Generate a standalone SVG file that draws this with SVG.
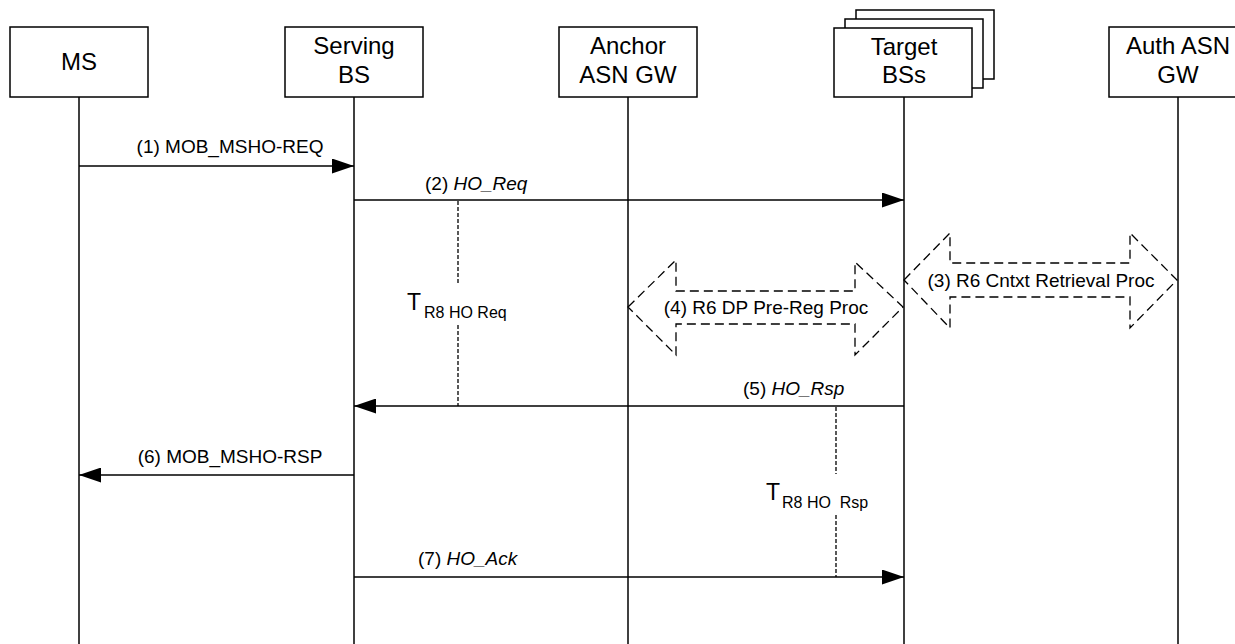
<svg xmlns="http://www.w3.org/2000/svg" width="1235" height="644" viewBox="0 0 1235 644">
<style>
.box{fill:#fff;stroke:#000;stroke-width:1.5}
.life{stroke:#000;stroke-width:1.5;fill:none}
.msg{stroke:#000;stroke-width:1.5;fill:none}
.tmr{stroke:#000;stroke-width:1.3;stroke-dasharray:4 2;fill:none}
.dbl{stroke:#000;stroke-width:1.3;stroke-dasharray:9 5;fill:none}
.bt{font-family:"Liberation Sans",Arial,sans-serif;font-size:24px;text-anchor:middle;fill:#000}
.lb{font-family:"Liberation Sans",Arial,sans-serif;font-size:19px;fill:#000}
.it{font-style:italic}
.tt{font-family:"Liberation Sans",Arial,sans-serif;font-size:23px;fill:#000}
.ts{font-family:"Liberation Sans",Arial,sans-serif;font-size:16px;fill:#000;white-space:pre}
</style>
<defs>
<marker id="ah" markerWidth="22" markerHeight="15" refX="22" refY="7.5" orient="auto" markerUnits="userSpaceOnUse">
<path d="M0,0 L22,7.5 L0,15 Z" fill="#000"/>
</marker>
</defs>

<g id="lifelines">
<line class="life" x1="79" y1="97" x2="79" y2="644"/>
<line class="life" x1="354" y1="97" x2="354" y2="644"/>
<line class="life" x1="628" y1="97" x2="628" y2="644"/>
<line class="life" x1="904" y1="97" x2="904" y2="644"/>
<line class="life" x1="1178" y1="97" x2="1178" y2="644"/>
</g>

<g id="node-ms">
<rect class="box" x="10" y="27" width="138" height="70"/>
<text class="bt" x="79" y="70">MS</text>
</g>
<g id="node-serving-bs">
<rect class="box" x="285" y="27" width="138" height="70"/>
<text class="bt" x="354" y="54">Serving</text>
<text class="bt" x="354" y="83">BS</text>
</g>
<g id="node-anchor-asn-gw">
<rect class="box" x="559" y="27" width="138" height="70"/>
<text class="bt" x="628" y="54">Anchor</text>
<text class="bt" x="628" y="83">ASN GW</text>
</g>
<g id="node-target-bss">
<rect class="box" x="856" y="10" width="138" height="69"/>
<rect class="box" x="845" y="19" width="138" height="69"/>
<rect class="box" x="834" y="28" width="138" height="69"/>
<text class="bt" x="904" y="55">Target</text>
<text class="bt" x="904" y="83">BSs</text>
</g>
<g id="node-auth-asn-gw">
<rect class="box" x="1109" y="27" width="138" height="70"/>
<text class="bt" x="1178" y="54">Auth ASN</text>
<text class="bt" x="1178" y="83">GW</text>
</g>

<g id="connectors">
<line class="msg" x1="79" y1="166" x2="354" y2="166" marker-end="url(#ah)"/>
<line class="msg" x1="354" y1="200" x2="904" y2="200" marker-end="url(#ah)"/>
<line class="msg" x1="904" y1="406" x2="354" y2="406" marker-end="url(#ah)"/>
<line class="msg" x1="354" y1="475" x2="79" y2="475" marker-end="url(#ah)"/>
<line class="msg" x1="354" y1="577" x2="904" y2="577" marker-end="url(#ah)"/>

<line class="tmr" x1="458" y1="201" x2="458" y2="285"/>
<line class="tmr" x1="458" y1="325" x2="458" y2="406"/>
<line class="tmr" x1="836" y1="407" x2="836" y2="474"/>
<line class="tmr" x1="836" y1="515" x2="836" y2="577"/>

<path class="dbl" d="M628,307 L676,260 L676,291 L855,291 L855,262 L903,307 L855,355 L855,324 L676,324 L676,355 Z"/>
<path class="dbl" d="M904,280 L950,233 L950,263 L1130,263 L1130,233 L1177,280 L1130,328 L1130,297 L950,297 L950,328 Z"/>
</g>

<g id="labels">
<text class="lb" x="230" y="153" text-anchor="middle">(1) MOB_MSHO-REQ</text>
<text class="lb" x="425" y="190">(2) <tspan class="it">HO_Req</tspan></text>
<text class="lb" x="1041" y="287" text-anchor="middle">(3) R6 Cntxt Retrieval Proc</text>
<text class="lb" x="766" y="314" text-anchor="middle">(4) R6 DP Pre-Reg Proc</text>
<text class="lb" x="743" y="395">(5) <tspan class="it">HO_Rsp</tspan></text>
<text class="lb" x="230" y="463" text-anchor="middle">(6) MOB_MSHO-RSP</text>
<text class="lb" x="418" y="565">(7) <tspan class="it">HO_Ack</tspan></text>
<text class="tt" x="407" y="310">T</text>
<text class="ts" x="424" y="318">R8 HO Req</text>
<text class="tt" x="766" y="500">T</text>
<text class="ts" x="782" y="508">R8 HO  Rsp</text>
</g>
</svg>
